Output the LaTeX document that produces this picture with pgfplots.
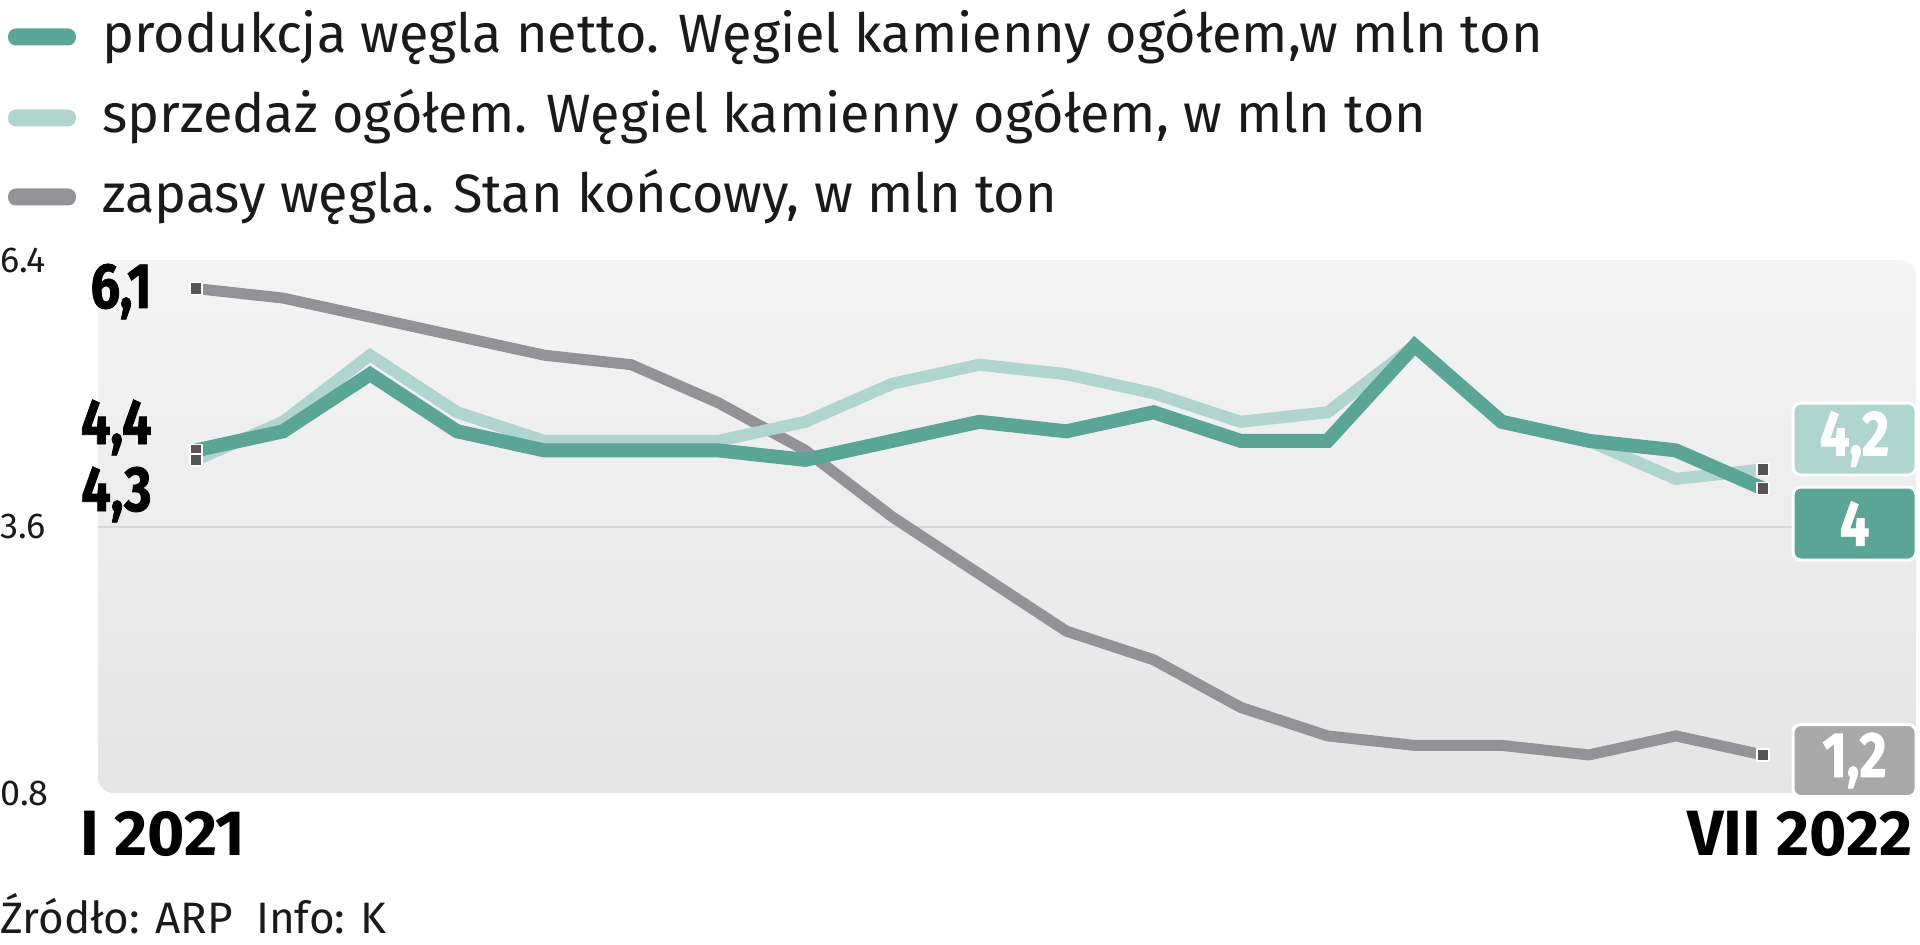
\documentclass[border=0pt]{standalone}
\usepackage{fontspec}
\setmainfont{Fira Sans}
\newfontfamily\legfont{Fira Sans}
\newfontfamily\numfont{Fira Sans}[FakeStretch=0.82, BoldFeatures={FakeBold=1.2}]
\usepackage{pgfplots}
\pgfplotsset{compat=1.18}
\definecolor{cgreen}{HTML}{5AA596}
\definecolor{clight}{HTML}{AFD5CE}
\definecolor{cgray}{HTML}{939397}
\definecolor{cmark}{HTML}{555555}
\definecolor{bgtop}{HTML}{F4F4F4}
\definecolor{bgbot}{HTML}{E5E5E5}
\definecolor{gridc}{HTML}{D8D8D8}
\definecolor{cbox}{HTML}{A8A8A8}
\definecolor{ctext}{HTML}{1A1A1A}

\pgfplotstableread{
x green light gray
0 4.4 4.3 6.1
1 4.6 4.7 6.0
2 5.2 5.4 5.8
3 4.6 4.8 5.6
4 4.4 4.5 5.4
5 4.4 4.5 5.3
6 4.4 4.5 4.9
7 4.3 4.7 4.4
8 4.5 5.1 3.7
9 4.7 5.3 3.1
10 4.6 5.2 2.5
11 4.8 5.0 2.2
12 4.5 4.7 1.7
13 4.5 4.8 1.4
14 5.5 5.5 1.3
15 4.7 4.7 1.3
16 4.5 4.5 1.2
17 4.4 4.1 1.4
18 4.0 4.2 1.2
}\datatable

\begin{document}
\begin{tikzpicture}
\useasboundingbox (0,0) rectangle (960pt,472pt);
% legend
\fill[cgreen, rounded corners=4pt] (4pt,449.25pt) rectangle (38pt,457.75pt);
\fill[clight, rounded corners=4pt] (4pt,408.75pt) rectangle (38pt,417.25pt);
\fill[cgray, rounded corners=4pt] (4pt,369.25pt) rectangle (38pt,377.75pt);
\node[anchor=base west, inner sep=0pt, text=ctext, font=\legfont\fontsize{27}{27}\selectfont] at (51pt,445.5pt) {produkcja węgla netto. Węgiel kamienny ogółem,w mln ton};
\node[anchor=base west, inner sep=0pt, text=ctext, font=\legfont\fontsize{27}{27}\selectfont] at (51pt,405.5pt) {sprzedaż ogółem. Węgiel kamienny ogółem, w mln ton};
\node[anchor=base west, inner sep=0pt, text=ctext, font=\legfont\fontsize{27}{27}\selectfont] at (51pt,365.5pt) {zapasy węgla. Stan końcowy, w mln ton};

\begin{axis}[
  at={(49pt,75.5pt)}, anchor=south west,
  scale only axis, width=909pt, height=266.5pt,
  xmin=-1.126, xmax=19.76, ymin=0.8, ymax=6.4,
  xtick=\empty,
  ytick={0.8,3.6,6.4}, yticklabels={0.8,3.6,6.4},
  axis line style={draw=none},
  major tick length=0pt,
  yticklabel style={anchor=west, xshift=-49pt, inner sep=0pt, text=ctext, font=\fontsize{18}{18}\selectfont},
  /pgf/number format/assume math mode=true,
  clip=false,
  axis background/.style={shade, top color=bgtop, bottom color=bgbot, rounded corners=8pt},
]
\draw[gridc, line width=1pt] (rel axis cs:0,0.5) -- (rel axis cs:1,0.5);
\addplot[cgray, line width=5.5pt] table[x=x, y=gray] {\datatable};
\addplot[clight, line width=6pt] table[x=x, y=light] {\datatable};
\addplot[cgreen, line width=7pt] table[x=x, y=green] {\datatable};
\addplot[only marks, mark=square*, mark size=3pt, mark options={fill=cmark, draw=white, line width=0.8pt}] coordinates {(0,6.1) (0,4.4) (0,4.3) (18,4.2) (18,4.0) (18,1.2)};
\end{axis}

% start labels
\node[anchor=base east, inner sep=0pt, text=black, font=\numfont\bfseries\fontsize{32}{32}\selectfont] at (76pt,318pt) {6,1};
\node[anchor=base east, inner sep=0pt, text=black, font=\numfont\bfseries\fontsize{32}{32}\selectfont] at (76pt,250pt) {4,4};
\node[anchor=base east, inner sep=0pt, text=black, font=\numfont\bfseries\fontsize{32}{32}\selectfont] at (76pt,216.5pt) {4,3};
% end boxes
\node[fill=clight, draw=white, line width=1.5pt, rounded corners=4pt, minimum width=61.5pt, minimum height=36pt, inner sep=0pt, text=white, font=\numfont\bfseries\fontsize{32}{32}\selectfont] at (927.25pt,252.5pt) {4,2};
\node[fill=cgreen, draw=white, line width=1.5pt, rounded corners=4pt, minimum width=61.5pt, minimum height=36.5pt, inner sep=0pt, text=white, font=\numfont\bfseries\fontsize{32}{32}\selectfont] at (927.25pt,210.25pt) {4};
\node[fill=cbox, draw=white, line width=1.5pt, rounded corners=4pt, minimum width=61.5pt, minimum height=36pt, inner sep=0pt, text=white, font=\numfont\bfseries\fontsize{32}{32}\selectfont] at (927.25pt,91.75pt) {1,2};
% x labels
\node[anchor=base west, inner sep=0pt, text=black, font=\bfseries\fontsize{32}{32}\selectfont] at (40pt,44.5pt) {I 2021};
\node[anchor=base east, inner sep=0pt, text=black, font=\bfseries\fontsize{32}{32}\selectfont] at (956.5pt,44.5pt) {VII 2022};
% footer
\node[anchor=base west, inner sep=0pt, text=ctext, font=\fontsize{22}{22}\selectfont] at (0pt,5.5pt) {Źródło: ARP\ \ Info: K};
\end{tikzpicture}
\end{document}
